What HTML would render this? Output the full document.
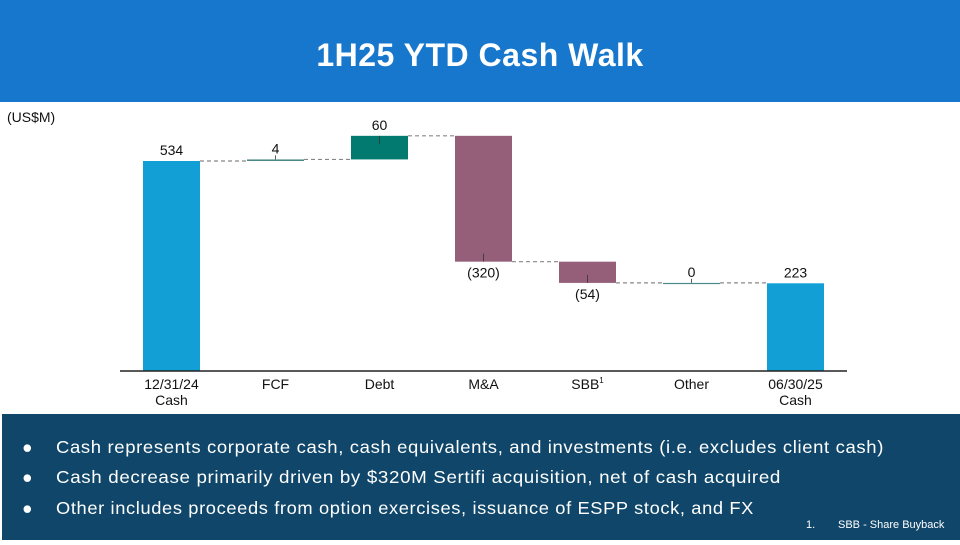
<!DOCTYPE html>
<html><head><meta charset="utf-8"><style>
body{margin:0;width:960px;height:540px;overflow:hidden;background:#fff;font-family:"Liberation Sans",sans-serif}
</style></head><body>
<svg width="960" height="540" xmlns="http://www.w3.org/2000/svg">
<rect x="0" y="0" width="960" height="102" fill="#1677cc"/>
<text x="480" y="66" text-anchor="middle" font-size="32" font-weight="bold" fill="#fff" letter-spacing="0.5">1H25 YTD Cash Walk</text>
<text x="7" y="122" font-size="14" fill="#111">(US$M)</text>
<g id="chart"></g>
<line x1="120" y1="371" x2="847" y2="371" stroke="#222" stroke-width="1.5"/>
<rect x="2" y="414" width="958" height="126" fill="#0f4669"/>
<g font-size="17.5" fill="#fff" letter-spacing="0.6">
<text x="22" y="453">●</text><text x="56" y="453" textLength="828" lengthAdjust="spacingAndGlyphs">Cash represents corporate cash, cash equivalents, and investments (i.e. excludes client cash)</text>
<text x="22" y="483">●</text><text x="56" y="483" textLength="725" lengthAdjust="spacingAndGlyphs">Cash decrease primarily driven by $320M Sertifi acquisition, net of cash acquired</text>
<text x="22" y="514">●</text><text x="56" y="514" textLength="698" lengthAdjust="spacingAndGlyphs">Other includes proceeds from option exercises, issuance of ESPP stock, and FX</text>
</g>
<text x="806" y="528" font-size="11" fill="#fff">1.</text>
<text x="838" y="528" font-size="11" fill="#fff">SBB - Share Buyback</text>
</svg>
<script>
const categories=["12/31/24|Cash","FCF","Debt","M&A","SBB","Other","06/30/25|Cash"];
const values=[534,4,60,-320,-54,0,223];
const types=["total","delta","delta","delta","delta","delta","total"];
const labels=["534","4","60","(320)","(54)","0","223"];
const NS="http://www.w3.org/2000/svg";
const g=document.getElementById('chart');
const base=371, k=210/534, x0=171.5, step=104, bw=57;
const y=v=>base-v*k, xc=i=>x0+i*step;
function mk(t,a){const e=document.createElementNS(NS,t);for(const n in a)e.setAttribute(n,a[n]);g.appendChild(e);return e;}
let run=0;
values.forEach((v,i)=>{
  let s,e,col;
  if(types[i]==="total"){s=0;e=v;run=v;col="#119fd6";}
  else{s=run;e=run+v;run=e;col=v>0?"#037a70":"#955f7a";if(Math.abs(v)<6)col="#4a8a86";}
  const top=y(Math.max(s,e)), bot=y(Math.min(s,e));
  const h=Math.max(bot-top,1.2);
  const r=mk('rect',{x:xc(i)-bw/2,y:top,width:bw,height:h,fill:col});
  
  
  if(i<values.length-1){
    const ln=mk('line',{x1:xc(i)+bw/2,x2:xc(i+1)-bw/2,y1:y(run),y2:y(run),stroke:"#888","stroke-dasharray":"4,3","stroke-width":1.2});
    
    
  }
  const neg=v<0;
  const ly=neg?bot+16:top-6;
  if(types[i]==="delta"){
    const small=Math.abs(v)<6;
    const tk=mk('line',{x1:xc(i),x2:xc(i),y1:neg?bot-8:(small?top-4:top),y2:neg?bot:(small?top:top+8),stroke:"#333","stroke-width":0.8});
    
    
  }
  const t=mk('text',{x:xc(i),y:ly,"text-anchor":"middle","font-size":14,fill:"#111"});
  t.textContent=labels[i];
  
  
  const parts=categories[i].split('|');
  parts.forEach((p,j)=>{
    const c=mk('text',{x:xc(i),y:389+j*16,"text-anchor":"middle","font-size":14,fill:"#111"});
    c.textContent=p;
    if(p==="SBB"){const s=document.createElementNS(NS,'tspan');s.setAttribute('font-size','8');s.setAttribute('dy','-6');s.textContent='1';c.appendChild(s);}
    
    
  });
});
</script>
</body></html>
